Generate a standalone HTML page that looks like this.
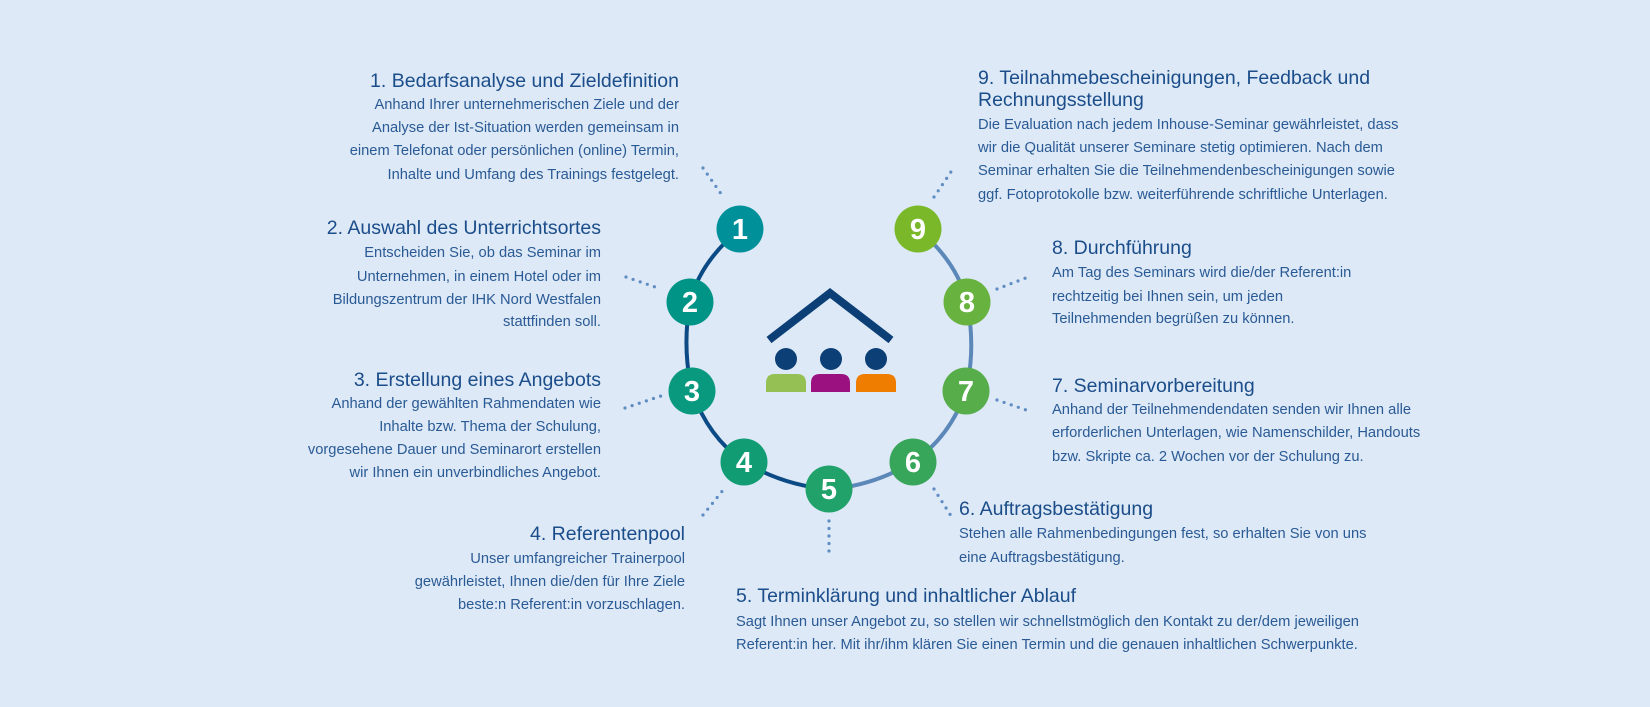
<!DOCTYPE html>
<html><head><meta charset="utf-8"><style>
html,body{margin:0;padding:0;background:#dde9f6;}
svg{display:block}
.t{font-family:"Liberation Sans",sans-serif;font-size:19.5px;fill:#1b4d8a}
.b{font-family:"Liberation Sans",sans-serif;font-size:14.7px;fill:#2a5a95}
.n{font-family:"Liberation Sans",sans-serif;font-size:29px;font-weight:600;fill:#fff;text-anchor:middle}
.d{stroke:#5f8cc2;stroke-width:3.2;stroke-linecap:round;stroke-dasharray:0 7.5;fill:none}
</style></head><body>
<svg width="1650" height="707" viewBox="0 0 1650 707" xmlns="http://www.w3.org/2000/svg">
<rect width="1650" height="707" fill="#dde9f6"/>
<path d="M740,229 Q700,262 690,302 Q682,348 692,391 Q708,437 744,462 Q785,486 829,489" stroke="#0b4a85" stroke-width="4" fill="none"/>
<path d="M829,489 Q873,486 913,462 Q950,437 966,391 Q976,348 967,302 Q957,262 918,229" stroke="#5b88b9" stroke-width="4" fill="none"/>
<line class="d" x1="703" y1="168" x2="724" y2="198"/>
<line class="d" x1="626" y1="277" x2="661" y2="289"/>
<line class="d" x1="625" y1="408" x2="661" y2="396"/>
<line class="d" x1="703" y1="515" x2="724" y2="489"/>
<line class="d" x1="829" y1="521" x2="829" y2="558"/>
<line class="d" x1="934" y1="489" x2="953" y2="519"/>
<line class="d" x1="997" y1="400" x2="1032" y2="412"/>
<line class="d" x1="997" y1="289" x2="1031" y2="276"/>
<line class="d" x1="934" y1="197" x2="955" y2="166"/>
<g>
<circle cx="740" cy="229" r="23.5" fill="#00909a"/><text class="n" x="740" y="239">1</text>
<circle cx="690" cy="302" r="23.5" fill="#009486"/><text class="n" x="690" y="312">2</text>
<circle cx="692" cy="391" r="23.5" fill="#08997e"/><text class="n" x="692" y="401">3</text>
<circle cx="744" cy="462" r="23.5" fill="#119c74"/><text class="n" x="744" y="472">4</text>
<circle cx="829" cy="489" r="23.5" fill="#20a26a"/><text class="n" x="829" y="499">5</text>
<circle cx="913" cy="462" r="23.5" fill="#38a65a"/><text class="n" x="913" y="472">6</text>
<circle cx="966" cy="391" r="23.5" fill="#56ad4a"/><text class="n" x="966" y="401">7</text>
<circle cx="967" cy="302" r="23.5" fill="#68b23f"/><text class="n" x="967" y="312">8</text>
<circle cx="918" cy="229" r="23.5" fill="#7ab82a"/><text class="n" x="918" y="239">9</text>
</g>
<polyline points="769,340 830,293 891,340" stroke="#0b3f75" stroke-width="8" fill="none"/>
<circle cx="786" cy="359" r="11" fill="#0b3f75"/>
<circle cx="831" cy="359" r="11" fill="#0b3f75"/>
<circle cx="876" cy="359" r="11" fill="#0b3f75"/>
<path d="M766,392 V383 Q766,374 775,374 H797 Q806,374 806,383 V392 Z" fill="#94c054"/>
<path d="M811,392 V383 Q811,374 820,374 H841 Q850,374 850,383 V392 Z" fill="#9c1180"/>
<path d="M856,392 V383 Q856,374 865,374 H887 Q896,374 896,383 V392 Z" fill="#ee7d00"/>
<g text-anchor="end">
<text class="t" x="679" y="87">1. Bedarfsanalyse und Zieldefinition</text>
<text class="b" x="679" y="109">Anhand Ihrer unternehmerischen Ziele und der</text>
<text class="b" x="679" y="132">Analyse der Ist-Situation werden gemeinsam in</text>
<text class="b" x="679" y="155">einem Telefonat oder persönlichen (online) Termin,</text>
<text class="b" x="679" y="179">Inhalte und Umfang des Trainings festgelegt.</text>

<text class="t" x="601" y="234">2. Auswahl des Unterrichtsortes</text>
<text class="b" x="601" y="257">Entscheiden Sie, ob das Seminar im</text>
<text class="b" x="601" y="281">Unternehmen, in einem Hotel oder im</text>
<text class="b" x="601" y="304">Bildungszentrum der IHK Nord Westfalen</text>
<text class="b" x="601" y="326">stattfinden soll.</text>

<text class="t" x="601" y="386">3. Erstellung eines Angebots</text>
<text class="b" x="601" y="408">Anhand der gewählten Rahmendaten wie</text>
<text class="b" x="601" y="431">Inhalte bzw. Thema der Schulung,</text>
<text class="b" x="601" y="454">vorgesehene Dauer und Seminarort erstellen</text>
<text class="b" x="601" y="477">wir Ihnen ein unverbindliches Angebot.</text>

<text class="t" x="685" y="540">4. Referentenpool</text>
<text class="b" x="685" y="563">Unser umfangreicher Trainerpool</text>
<text class="b" x="685" y="586">gewährleistet, Ihnen die/den für Ihre Ziele</text>
<text class="b" x="685" y="609">beste:n Referent:in vorzuschlagen.</text>
</g>
<g>
<text class="t" x="736" y="602">5. Terminklärung und inhaltlicher Ablauf</text>
<text class="b" x="736" y="626">Sagt Ihnen unser Angebot zu, so stellen wir schnellstmöglich den Kontakt zu der/dem jeweiligen</text>
<text class="b" x="736" y="649">Referent:in her. Mit ihr/ihm klären Sie einen Termin und die genauen inhaltlichen Schwerpunkte.</text>

<text class="t" x="959" y="515">6. Auftragsbestätigung</text>
<text class="b" x="959" y="538">Stehen alle Rahmenbedingungen fest, so erhalten Sie von uns</text>
<text class="b" x="959" y="562">eine Auftragsbestätigung.</text>

<text class="t" x="1052" y="392">7. Seminarvorbereitung</text>
<text class="b" x="1052" y="414">Anhand der Teilnehmendendaten senden wir Ihnen alle</text>
<text class="b" x="1052" y="437">erforderlichen Unterlagen, wie Namenschilder, Handouts</text>
<text class="b" x="1052" y="461">bzw. Skripte ca. 2 Wochen vor der Schulung zu.</text>

<text class="t" x="1052" y="254">8. Durchführung</text>
<text class="b" x="1052" y="277">Am Tag des Seminars wird die/der Referent:in</text>
<text class="b" x="1052" y="301">rechtzeitig bei Ihnen sein, um jeden</text>
<text class="b" x="1052" y="323">Teilnehmenden begrüßen zu können.</text>

<text class="t" x="978" y="84">9. Teilnahmebescheinigungen, Feedback und</text>
<text class="t" x="978" y="106">Rechnungsstellung</text>
<text class="b" x="978" y="129">Die Evaluation nach jedem Inhouse-Seminar gewährleistet, dass</text>
<text class="b" x="978" y="152">wir die Qualität unserer Seminare stetig optimieren. Nach dem</text>
<text class="b" x="978" y="175">Seminar erhalten Sie die Teilnehmendenbescheinigungen sowie</text>
<text class="b" x="978" y="199">ggf. Fotoprotokolle bzw. weiterführende schriftliche Unterlagen.</text>
</g>
</svg>
</body></html>
